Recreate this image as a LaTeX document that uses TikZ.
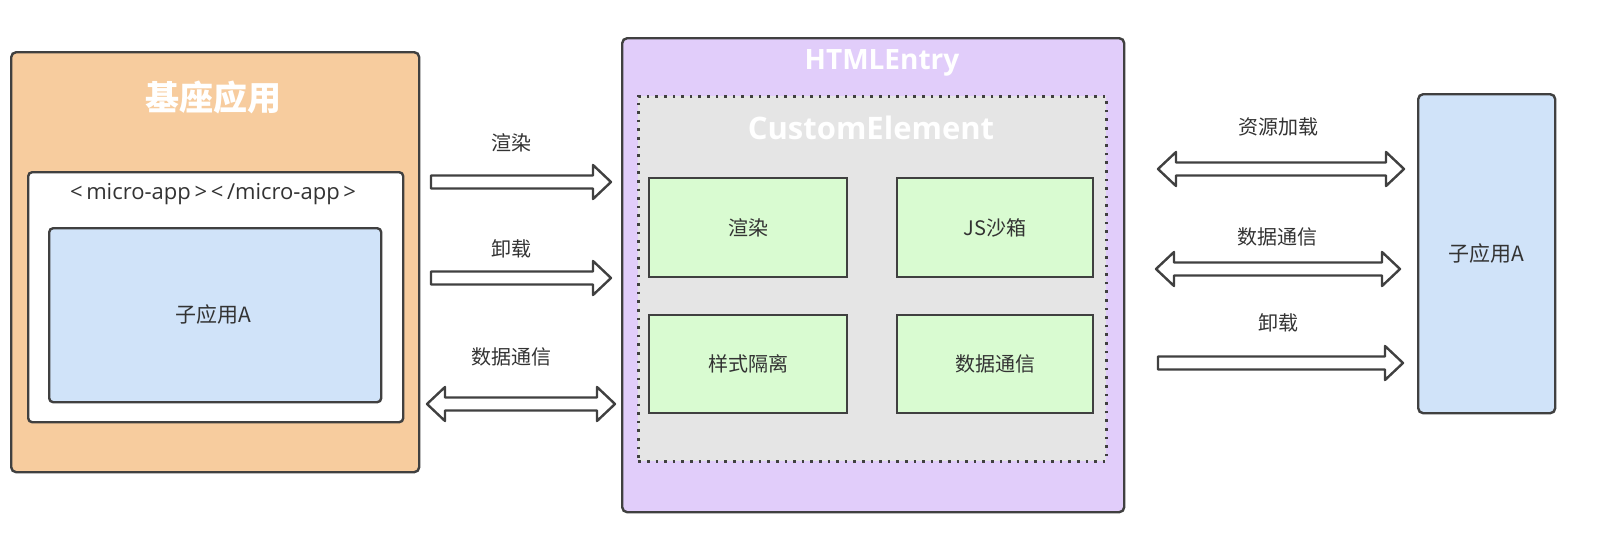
\documentclass[tikz,border=0pt]{standalone}
\usepackage{fontspec}
\setmainfont{Open Sans}
\newfontfamily\cjk{Noto Sans CJK SC}
\usetikzlibrary{calc}
\definecolor{edge}{HTML}{404040}
\definecolor{peach}{HTML}{F7CC9E}
\definecolor{lav}{HTML}{E1CDFA}
\definecolor{sky}{HTML}{D0E3F9}
\definecolor{mint}{HTML}{D9FBD1}
\definecolor{fog}{HTML}{E5E5E5}
\definecolor{ink}{HTML}{333333}
\newcommand\fatR[2]{\draw[blk] ($(#1)+(0,-6.5)$) -- ($(#2)+(-18,-6.5)$) -- ($(#2)+(-18,-17)$) -- (#2) -- ($(#2)+(-18,17)$) -- ($(#2)+(-18,6.5)$) -- ($(#1)+(0,6.5)$) -- cycle;}
\newcommand\fatLR[2]{\draw[blk] ($(#1)+(18,-6.5)$) -- ($(#2)+(-18,-6.5)$) -- ($(#2)+(-18,-17)$) -- (#2) -- ($(#2)+(-18,17)$) -- ($(#2)+(-18,6.5)$) -- ($(#1)+(18,6.5)$) -- ($(#1)+(18,17)$) -- (#1) -- ($(#1)+(18,-17)$) -- cycle;}
\begin{document}
\begin{tikzpicture}[x=1pt,y=-1pt,
  box/.style={draw=edge,line width=2.4pt,anchor=north west,inner sep=0pt},
  rbox/.style={box,rounded corners=5pt},
  lbl/.style={font=\cjk\fontsize{20}{24}\selectfont,text=ink,inner sep=0pt},
  title/.style={font=\bfseries\fontsize{28}{32}\selectfont,text=white,inner sep=0pt},
  blk/.style={draw=edge,fill=white,line width=2.4pt,line join=round}]
\useasboundingbox (0,0) rectangle (1616,538);
\fill[white] (0,0) rectangle (1616,538);
% left base app
\node[rbox,fill=peach,minimum width=408pt,minimum height=420pt] (base) at (10,51) {};
\node[rbox,fill=white,rounded corners=4pt,minimum width=375pt,minimum height=250pt] (wrap) at (27,171) {};
\node[rbox,fill=sky,rounded corners=4pt,minimum width=332pt,minimum height=174pt] (subA) at (48,227) {};
\node[font=\cjk\bfseries\fontsize{34}{38}\selectfont,text=white,inner sep=0pt] (baseT) at (213,97) {基座应用};
\node[font=\fontsize{22}{24}\selectfont,text=ink,inner sep=0pt] (tagT) at (213,194) {<\,micro-app\,>\,<\,/micro-app\,>};
\node[lbl,font=\cjk\fontsize{21}{24}\selectfont] (subAT) at (213,315) {子应用A};
% middle
\node[rbox,fill=lav,minimum width=502pt,minimum height=474pt] (html) at (621,37) {};
\node[box,fill=fog,line width=2.6pt,dash pattern=on 2.6pt off 6pt,minimum width=468pt,minimum height=365pt] (ce) at (637,95) {};
\node[title] (htmlT) at (882,63) {HTMLEntry};
\node[title,font=\bfseries\fontsize{31}{34}\selectfont] (ceT) at (871,128) {CustomElement};
\node[box,fill=mint,minimum width=198pt,minimum height=99pt] (g1) at (648,177) {};
\node[box,fill=mint,minimum width=196pt,minimum height=99pt] (g2) at (896,177) {};
\node[box,fill=mint,minimum width=198pt,minimum height=98pt] (g3) at (648,314) {};
\node[box,fill=mint,minimum width=196pt,minimum height=98pt] (g4) at (896,314) {};
\node[lbl] (g1T) at (g1.center) {渲染};
\node[lbl] (g2T) at (g2.center) {JS沙箱};
\node[lbl] (g3T) at (g3.center) {样式隔离};
\node[lbl] (g4T) at (g4.center) {数据通信};
% right
\node[rbox,fill=sky,minimum width=137pt,minimum height=319pt] (subR) at (1417,93) {};
\node[lbl,font=\cjk\fontsize{21}{24}\selectfont] (subRT) at (subR.center) {子应用A};
% arrow labels
\node[lbl] (l1) at (511,143) {渲染};
\node[lbl] (l2) at (511,249) {卸载};
\node[lbl] (l3) at (511,357) {数据通信};
\node[lbl] (r1) at (1278,127) {资源加载};
\node[lbl] (r2) at (1277,237) {数据通信};
\node[lbl] (r3) at (1278,323) {卸载};
% arrow ends
\coordinate (a1s) at (431,182); \coordinate (a1e) at (611,182);
\coordinate (a2s) at (431,278); \coordinate (a2e) at (611,278);
\coordinate (a3s) at (427,404); \coordinate (a3e) at (615,404);
\coordinate (b1s) at (1158,169); \coordinate (b1e) at (1404,169);
\coordinate (b2s) at (1156,269); \coordinate (b2e) at (1400,269);
\coordinate (b3s) at (1158,363); \coordinate (b3e) at (1403,363);
\fatR{a1s}{a1e}
\fatR{a2s}{a2e}
\fatLR{a3s}{a3e}
\fatLR{b1s}{b1e}
\fatLR{b2s}{b2e}
\fatR{b3s}{b3e}
\end{tikzpicture}
\end{document}
